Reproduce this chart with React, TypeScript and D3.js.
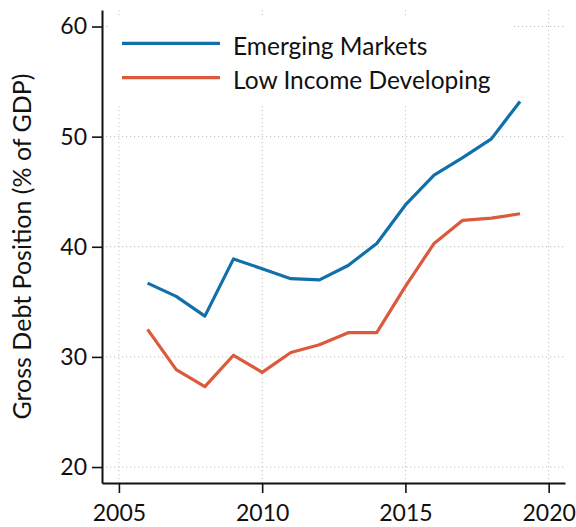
import React, { useEffect, useRef } from "react";
import * as d3 from "d3";

// chart data
const years = [2006, 2007, 2008, 2009, 2010, 2011, 2012, 2013, 2014, 2015, 2016, 2017, 2018, 2019];
const emergingMarkets = [36.7, 35.5, 33.7, 38.9, 38.0, 37.1, 37.0, 38.3, 40.3, 43.8, 46.5, 48.1, 49.8, 53.2];
const lowIncomeDeveloping = [32.5, 28.85, 27.3, 30.15, 28.6, 30.4, 31.1, 32.2, 32.2, 36.4, 40.3, 42.4, 42.6, 43.0];
const seriesNames = ["Emerging Markets", "Low Income Developing"];
const seriesColors = ["#1170aa", "#db5a3c"];
const xTicks = [2005, 2010, 2015, 2020];
const yTicks = [20, 30, 40, 50, 60];
const yLabel = "Gross Debt Position (% of GDP)";

const W = 576;
const H = 527;
const FONT = "Lato, 'Open Sans', sans-serif";

export default function App() {
  const xAxisRef = useRef<SVGGElement>(null);
  const yAxisRef = useRef<SVGGElement>(null);

  //axes area in pixels
  const margin = { top: 10, right: 11, bottom: 44, left: 102 };
  const x = d3.scaleLinear().domain([2004.41, 2020.57]).range([margin.left, W - margin.right]);
  const y = d3.scaleLinear().domain([18.55, 61.5]).range([H - margin.bottom, margin.top]);

  const series = [emergingMarkets, lowIncomeDeveloping];
  const line = d3
    .line<number>()
    .x((_, i) => x(years[i]))
    .y((d) => y(d));

  useEffect(() => {
    const xa = d3.select(xAxisRef.current!);
    xa.selectAll("*").remove();
    xa.call(
      d3.axisBottom(x).tickValues(xTicks).tickFormat(d3.format("d")).tickSize(10).tickSizeOuter(0).tickPadding(12)
    );
    const ya = d3.select(yAxisRef.current!);
    ya.selectAll("*").remove();
    ya.call(d3.axisLeft(y).tickValues(yTicks).tickSize(10).tickSizeOuter(0).tickPadding(5));
    [xa, ya].forEach((g) => {
      g.select(".domain").attr("stroke", "#111").attr("stroke-width", 2);
      g.selectAll(".tick line").attr("stroke", "#111").attr("stroke-width", 1.6);
      g.selectAll(".tick text").attr("fill", "#111").style("font-family", FONT).style("font-size", "23px");
    });
  }, []);

  const legend = { x0: 108, x1: 513, y0: 17, y1: 104 };
  const legendRows = [43.3, 77.7];

  return (
    <svg width={W} height={H} style={{ position: "absolute", left: 0, top: 0 }}>
      <rect width={W} height={H} fill="#fff" />
      {/* dotted grid */}
      <g stroke="#bdbdbd" strokeWidth={1} strokeDasharray="1.2,2.8">
        {xTicks.map((t) => (
          <line key={"gx" + t} x1={x(t)} x2={x(t)} y1={margin.top} y2={H - margin.bottom} />
        ))}
        {yTicks.map((t) => (
          <line key={"gy" + t} x1={margin.left} x2={W - margin.right} y1={y(t)} y2={y(t)} />
        ))}
      </g>
      {series.map((s, i) => (
        <path key={seriesNames[i]} d={line(s) ?? ""} fill="none" stroke={seriesColors[i]} strokeWidth={3.2} strokeLinejoin="round" />
      ))}
      {/* legend */}
      <rect x={legend.x0} y={legend.y0} width={legend.x1 - legend.x0} height={legend.y1 - legend.y0} fill="#fff" />
      {seriesNames.map((name, i) => (
        <g key={"lg" + name}>
          <line x1={122} x2={220} y1={legendRows[i]} y2={legendRows[i]} stroke={seriesColors[i]} strokeWidth={3.2} />
          <text x={233} y={legendRows[i] + 11.7} fontFamily={FONT} fontSize={24.5} fill="#111">
            {name}
          </text>
        </g>
      ))}
      <g ref={xAxisRef} transform={`translate(0,${H - margin.bottom})`} />
      <g ref={yAxisRef} transform={`translate(${margin.left},0)`} />
      <text
        transform={`translate(22,${246.5}) rotate(-90)`}
        textAnchor="middle"
        dy="0.35em"
        fontFamily={FONT}
        fontSize={25}
        fill="#111"
      >
        {yLabel}
      </text>
    </svg>
  );
}
